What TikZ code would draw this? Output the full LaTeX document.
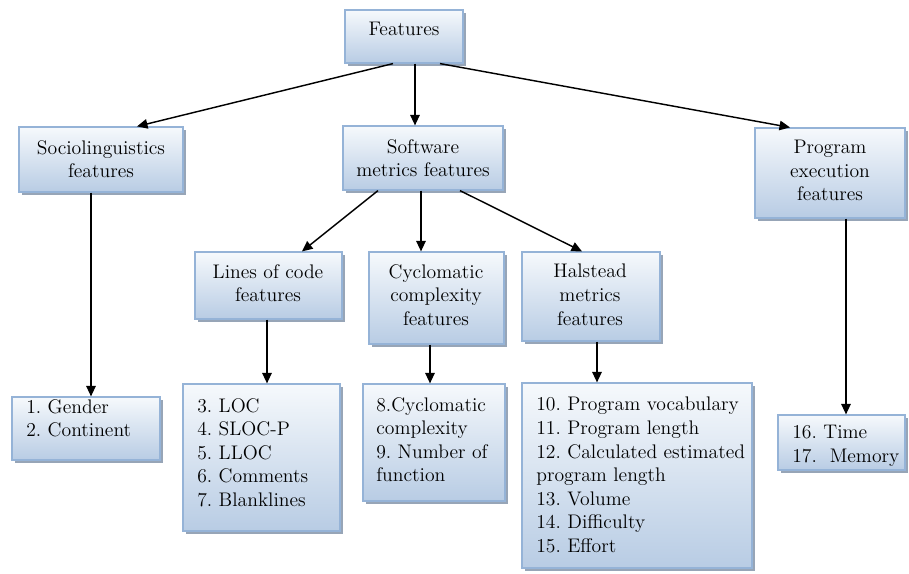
\documentclass[tikz,border=0pt]{standalone}
\usepackage{fontspec}
\usetikzlibrary{shadows,fit,arrows.meta}
\definecolor{boxline}{RGB}{149,179,215}
\definecolor{boxtop}{RGB}{246,249,252}
\definecolor{boxbot}{RGB}{184,204,228}
\definecolor{boxshade}{RGB}{140,155,175}
\begin{document}
\frenchspacing
\begin{tikzpicture}[x=0.59pt,y=-0.59pt,
  box/.style={draw=boxline, line width=0.7pt, top color=boxtop, bottom color=boxbot,
    inner sep=0pt, drop shadow={shadow xshift=1.6pt, shadow yshift=-1.6pt, fill=boxshade, opacity=0.9}},
  txt/.style={inner sep=0pt, font=\rmfamily\fontsize{11.6}{13.87}\selectfont},
  head/.style={txt, anchor=north, align=center},
  list/.style={txt, anchor=north west, align=left},
  arr/.style={line width=0.85pt, -{Triangle[length=6.2pt,width=5.6pt]}}]
\useasboundingbox (0,0) rectangle (909,574);

% boxes
\node[box, fit={(345,10) (463,63)}] (feat) {};
\node[box, fit={(19,127) (183,192)}] (socio) {};
\node[box, fit={(343,126) (503,190)}] (soft) {};
\node[box, fit={(755,128) (905,218)}] (prog) {};
\node[box, fit={(195,252) (342,319)}] (lines) {};
\node[box, fit={(369,252) (504,344)}] (cyc) {};
\node[box, fit={(522,252) (660,341)}] (hal) {};
\node[box, fit={(12,397) (160,460)}] (gender) {};
\node[box, fit={(183,384) (340,531)}] (loc) {};
\node[box, fit={(363,384) (505,501)}] (cyclist) {};
\node[box, fit={(522,383) (752,568)}] (hallist) {};
\node[box, fit={(778,415) (905,470)}] (time) {};

% box texts
\node[head] (feat-t) at (404,22) {Features};
\node[head] (socio-t) at (101,140) {Sociolinguistics\\features};
\node[head] (soft-t) at (423,139) {Software\\metrics features};
\node[head] (prog-t) at (830,140) {Program\\execution\\features};
\node[head] (lines-t) at (268,264) {Lines of code\\features};
\node[head] (cyc-t) at (436,264) {Cyclomatic\\complexity\\features};
\node[head] (hal-t) at (590,264) {Halstead\\metrics\\features};
\node[list] (gender-t) at (26,399) {1. Gender\\2. Continent};
\node[list] (loc-t) at (197,398) {3. LOC\\4. SLOC-P\\5. LLOC\\6. Comments\\7. Blanklines};
\node[list] (cyclist-t) at (376,397) {8.Cyclomatic\\complexity\\9. Number of\\function};
\node[list] (hallist-t) at (536,397) {10. Program vocabulary\\11. Program length\\12. Calculated estimated\\program length\\13. Volume\\14. Difficulty\\15. Effort};
\node[list] (time-t) at (792,425) {16. Time\\17.\ \ Memory};

% connectors
\draw[arr] (feat.south -| 393,0) -- (socio.north -| 137,0);
\draw[arr] (feat.south -| 415,0) -- (soft.north -| 415,0);
\draw[arr] (feat.south -| 440,0) -- (prog.north -| 790,0);
\draw[arr] (soft.south -| 378,0) -- (lines.north -| 302,0);
\draw[arr] (soft.south -| 421,0) -- (cyc.north -| 421,0);
\draw[arr] (soft.south -| 460,0) -- (hal.north -| 582,0);
\draw[arr] (socio.south -| 91,0) -- (gender.north -| 91,0);
\draw[arr] (lines.south -| 267,0) -- (loc.north -| 267,0);
\draw[arr] (cyc.south -| 430,0) -- (cyclist.north -| 430,0);
\draw[arr] (hal.south -| 597,0) -- (hallist.north -| 597,0);
\draw[arr] (prog.south -| 846,0) -- (time.north -| 846,0);
\end{tikzpicture}
\end{document}
